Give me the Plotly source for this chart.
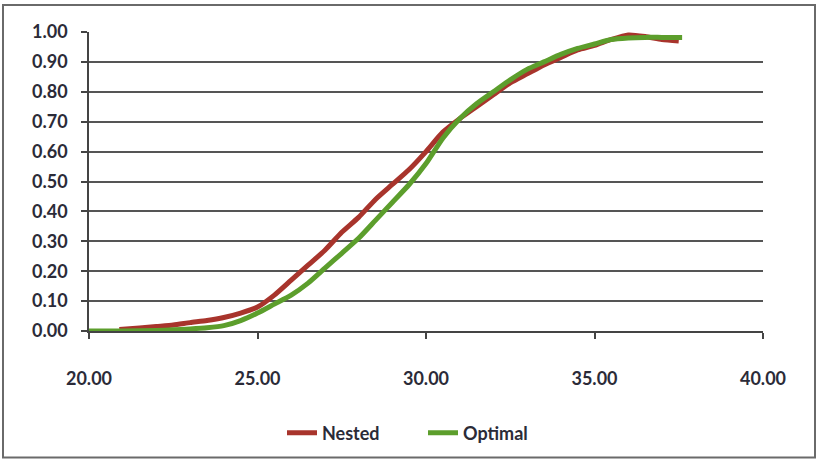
import plotly.graph_objects as go

# Data (cumulative curves)
nested_x = [20.9, 21.5, 22.0, 22.5, 23.0, 23.5, 24.0, 24.5, 25.0, 25.5, 26.0, 26.5, 27.0, 27.5,
            28.0, 28.5, 29.0, 29.5, 30.0, 30.5, 31.0, 31.5, 32.0, 32.5, 33.0, 33.5,
            34.0, 34.5, 35.0, 35.5, 36.0, 36.5, 37.0, 37.5]
nested_y = [0.005, 0.01, 0.015, 0.02, 0.028, 0.035, 0.045, 0.06, 0.08, 0.12, 0.17, 0.22, 0.27, 0.33,
            0.38, 0.44, 0.49, 0.54, 0.60, 0.665, 0.71, 0.75, 0.79, 0.83, 0.86, 0.89,
            0.915, 0.94, 0.955, 0.975, 0.99, 0.985, 0.975, 0.97]

optimal_x = [20.0, 21.0, 22.0, 22.5, 23.0, 23.5, 24.0, 24.5, 25.0, 25.5, 26.0, 26.5, 27.0, 27.5,
             28.0, 28.5, 29.0, 29.5, 30.0, 30.5, 31.0, 31.5, 32.0, 32.5, 33.0, 33.5,
             34.0, 34.5, 35.0, 35.5, 36.0, 36.5, 37.0, 37.6]
optimal_y = [0.0, 0.0, 0.002, 0.004, 0.007, 0.011, 0.018, 0.035, 0.06, 0.09, 0.12, 0.16, 0.21, 0.26,
             0.31, 0.37, 0.43, 0.49, 0.56, 0.645, 0.71, 0.76, 0.80, 0.84, 0.875, 0.90,
             0.925, 0.945, 0.96, 0.975, 0.98, 0.982, 0.982, 0.982]

x_ticks = [20, 25, 30, 35, 40]
y_ticks = [0.0, 0.1, 0.2, 0.3, 0.4, 0.5, 0.6, 0.7, 0.8, 0.9, 1.0]

FONT = "Lato"
TXT = "#2b2b38"
FS = 18

fig = go.Figure()
fig.add_trace(go.Scatter(x=nested_x, y=nested_y, mode="lines", name="Nested",
                         line=dict(color="#a8342c", width=5, shape="spline", smoothing=0.6)))
fig.add_trace(go.Scatter(x=optimal_x, y=optimal_y, mode="lines", name="Optimal",
                         line=dict(color="#5c9e2c", width=5, shape="spline", smoothing=0.6)))

W, H = 826, 462
L, R, T, B = 89, 63, 32, 130
pw, ph = W - L - R, H - T - B

def px(xp):
    return (xp - L) / pw

def py(yp):
    return (H - B - yp) / ph

fig.add_shape(type="rect", xref="paper", yref="paper",
              x0=px(3), x1=px(815), y0=py(459), y1=py(5),
              line=dict(color="#6a6a6a", width=2), layer="below")

tf = dict(family=FONT, size=FS, color=TXT, weight="bold")

fig.update_layout(
    width=W, height=H,
    margin=dict(l=L, r=R, t=T, b=B),
    paper_bgcolor="white", plot_bgcolor="white",
    font=dict(family=FONT, size=FS, color=TXT),
    showlegend=True,
    legend=dict(orientation="h", x=px(282), xanchor="left", y=py(433), yanchor="middle",
                font=tf, entrywidth=96, entrywidthmode="pixels",
                traceorder="normal"),
    xaxis=dict(range=[20, 40], tickvals=x_ticks, ticktext=[f"{v:.2f}" for v in x_ticks],
               showgrid=False, zeroline=False, showline=True, linecolor="#444", linewidth=1.5,
               ticks="outside", ticklen=6, tickcolor="#444", tickwidth=1.5,
               ticklabelstandoff=25, tickfont=tf),
    yaxis=dict(range=[0, 1.0], tickvals=y_ticks, ticktext=[f"{v:.2f}" for v in y_ticks],
               showgrid=True, gridcolor="#555", gridwidth=1.5, zeroline=False,
               showline=True, linecolor="#444", linewidth=1.5,
               ticks="outside", ticklen=6, tickcolor="#444", tickwidth=1.5,
               ticklabelstandoff=10, tickfont=tf),
)

fig.write_html("out.html")
